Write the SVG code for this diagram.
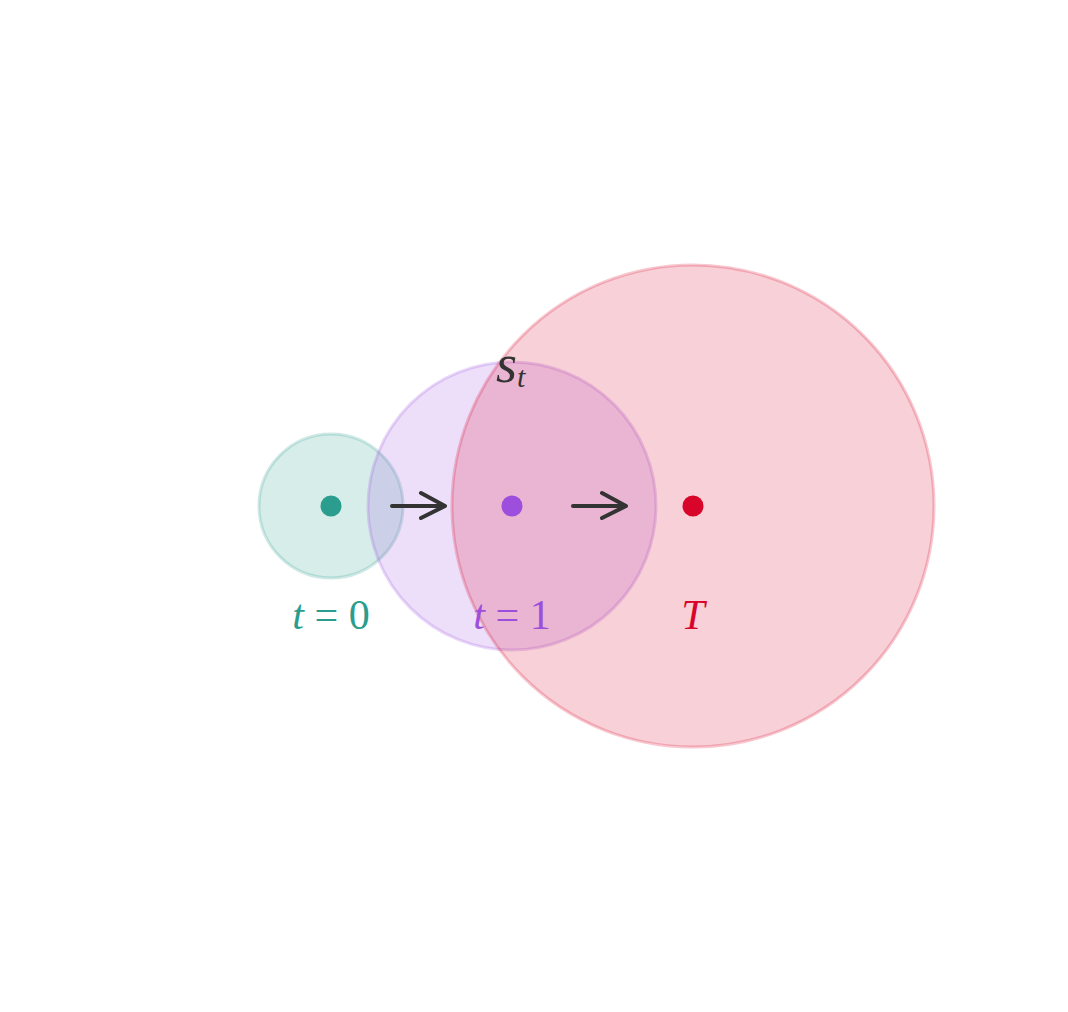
<svg xmlns="http://www.w3.org/2000/svg" width="1068" height="1012" viewBox="0 0 1068 1012">
<defs>
<style>
.region{stroke-width:3;}
.lbl{font-family:"Liberation Serif","DejaVu Serif",serif;font-size:42px;}
.it{font-style:italic;}
.sym{font-size:54px;}
.sub{font-size:30px;}
.arrow{fill:none;stroke:#333333;stroke-width:4;stroke-linecap:round;stroke-linejoin:round;}
</style>
</defs>
<rect width="1068" height="1012" fill="#ffffff"/>
<g id="node-t0">
<circle class="region" cx="331" cy="506" r="72" fill="#2a9d8f" fill-opacity="0.19" stroke="#2a9d8f" stroke-opacity="0.22"/>
</g>
<g id="node-t1">
<circle class="region" cx="512" cy="506" r="144" fill="#9d4edd" fill-opacity="0.19" stroke="#9d4edd" stroke-opacity="0.22"/>
</g>
<g id="node-T">
<circle class="region" cx="693" cy="506" r="241" fill="#d90429" fill-opacity="0.19" stroke="#d90429" stroke-opacity="0.22"/>
</g>
<g id="dots">
<circle cx="331" cy="506" r="10.5" fill="#2a9d8f"/>
<circle cx="512" cy="506" r="10.5" fill="#9d4edd"/>
<circle cx="693" cy="506" r="10.5" fill="#d90429"/>
</g>
<g id="connectors">
<path class="arrow" d="M392 506 H445 M421 493 L445 506 L421 518"/>
<path class="arrow" d="M573 506 H626 M602 493 L626 506 L602 518"/>
</g>
<g id="labels">
<text class="lbl" x="331" y="629" text-anchor="middle" fill="#2a9d8f"><tspan class="it">t</tspan> = 0</text>
<text class="lbl" x="512" y="629" text-anchor="middle" fill="#9d4edd"><tspan class="it">t</tspan> = 1</text>
<text class="lbl it" x="693" y="629" text-anchor="middle" fill="#d90429">T</text>
<text class="lbl it sym" x="496" y="382" fill="#333333">s<tspan class="sub" dy="5">t</tspan></text>
</g>
</svg>
